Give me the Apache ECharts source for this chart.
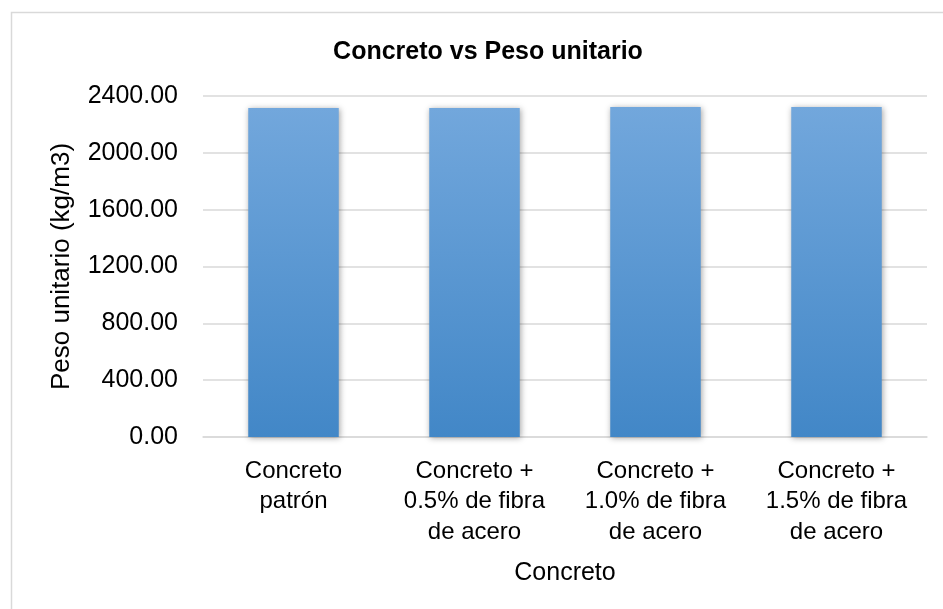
<!DOCTYPE html>
<html>
<head>
<meta charset="utf-8">
<script src="https://cdn.jsdelivr.net/npm/echarts@6/dist/echarts.min.js"></script>
<style>
  html, body { margin: 0; padding: 0; background: #ffffff; }
  #chart { width: 943px; height: 609px; }
</style>
</head>
<body>
<div id="chart"></div>
<script>
// Mezclas de concreto ensayadas
const categories = [
  'Concreto\npatrón',
  'Concreto +\n0.5% de fibra\nde acero',
  'Concreto +\n1.0% de fibra\nde acero',
  'Concreto +\n1.5% de fibra\nde acero'
];
// Peso unitario medido (kg/m3)
const pesoUnitario = [2315.6, 2315.2, 2322.4, 2322.6];
// Escala del eje vertical
const yMin = 0;
const yMax = 2400;
const yStep = 400;

const font = 'Liberation Sans, Arial, sans-serif';
const chart = echarts.init(document.getElementById('chart'));

chart.setOption({
  backgroundColor: '#ffffff',
  animation: false,
  graphic: [{
    type: 'rect',
    shape: { x: 11.5, y: 12.5, width: 1000, height: 1000 },
    style: { fill: 'none', stroke: '#d9d9d9', lineWidth: 1.5 },
    silent: true
  }],
  title: {
    text: 'Concreto vs Peso unitario',
    left: 483,
    top: 35,
    textAlign: 'center',
    textStyle: { fontFamily: font, fontSize: 25, fontWeight: 'bold', color: '#000000' }
  },
  grid: { left: 203, right: 16, top: 96, bottom: 172 },
  xAxis: {
    type: 'category',
    data: categories,
    name: 'Concreto',
    nameLocation: 'middle',
    nameGap: 124,
    nameTextStyle: { fontFamily: font, fontSize: 25, color: '#000000' },
    axisLine: { lineStyle: { color: '#d9d9d9', width: 1.5 } },
    axisTick: { show: false },
    axisLabel: {
      fontFamily: font, fontSize: 24, color: '#000000',
      lineHeight: 30.5, margin: 19, interval: 0, align: 'center'
    }
  },
  yAxis: {
    type: 'value',
    min: yMin,
    max: yMax,
    interval: yStep,
    name: 'Peso unitario (kg/m3)',
    nameLocation: 'middle',
    nameRotate: 90,
    nameGap: 128,
    nameTextStyle: { fontFamily: font, fontSize: 26, color: '#000000' },
    axisLine: { show: false },
    axisTick: { show: false },
    splitLine: { lineStyle: { color: '#d9d9d9', width: 1.5 } },
    axisLabel: {
      fontFamily: font, fontSize: 25, color: '#000000', margin: 25,
      formatter: v => v.toFixed(2)
    }
  },
  series: [{
    type: 'bar',
    data: pesoUnitario,
    barWidth: '50%',
    itemStyle: {
      color: new echarts.graphic.LinearGradient(0, 0, 0, 1, [
        { offset: 0, color: '#72a7dc' },
        { offset: 1, color: '#4287c7' }
      ]),
      shadowColor: 'rgba(0,0,0,0.35)',
      shadowBlur: 6,
      shadowOffsetX: 1,
      shadowOffsetY: 1
    }
  }]
});
</script>
</body>
</html>
